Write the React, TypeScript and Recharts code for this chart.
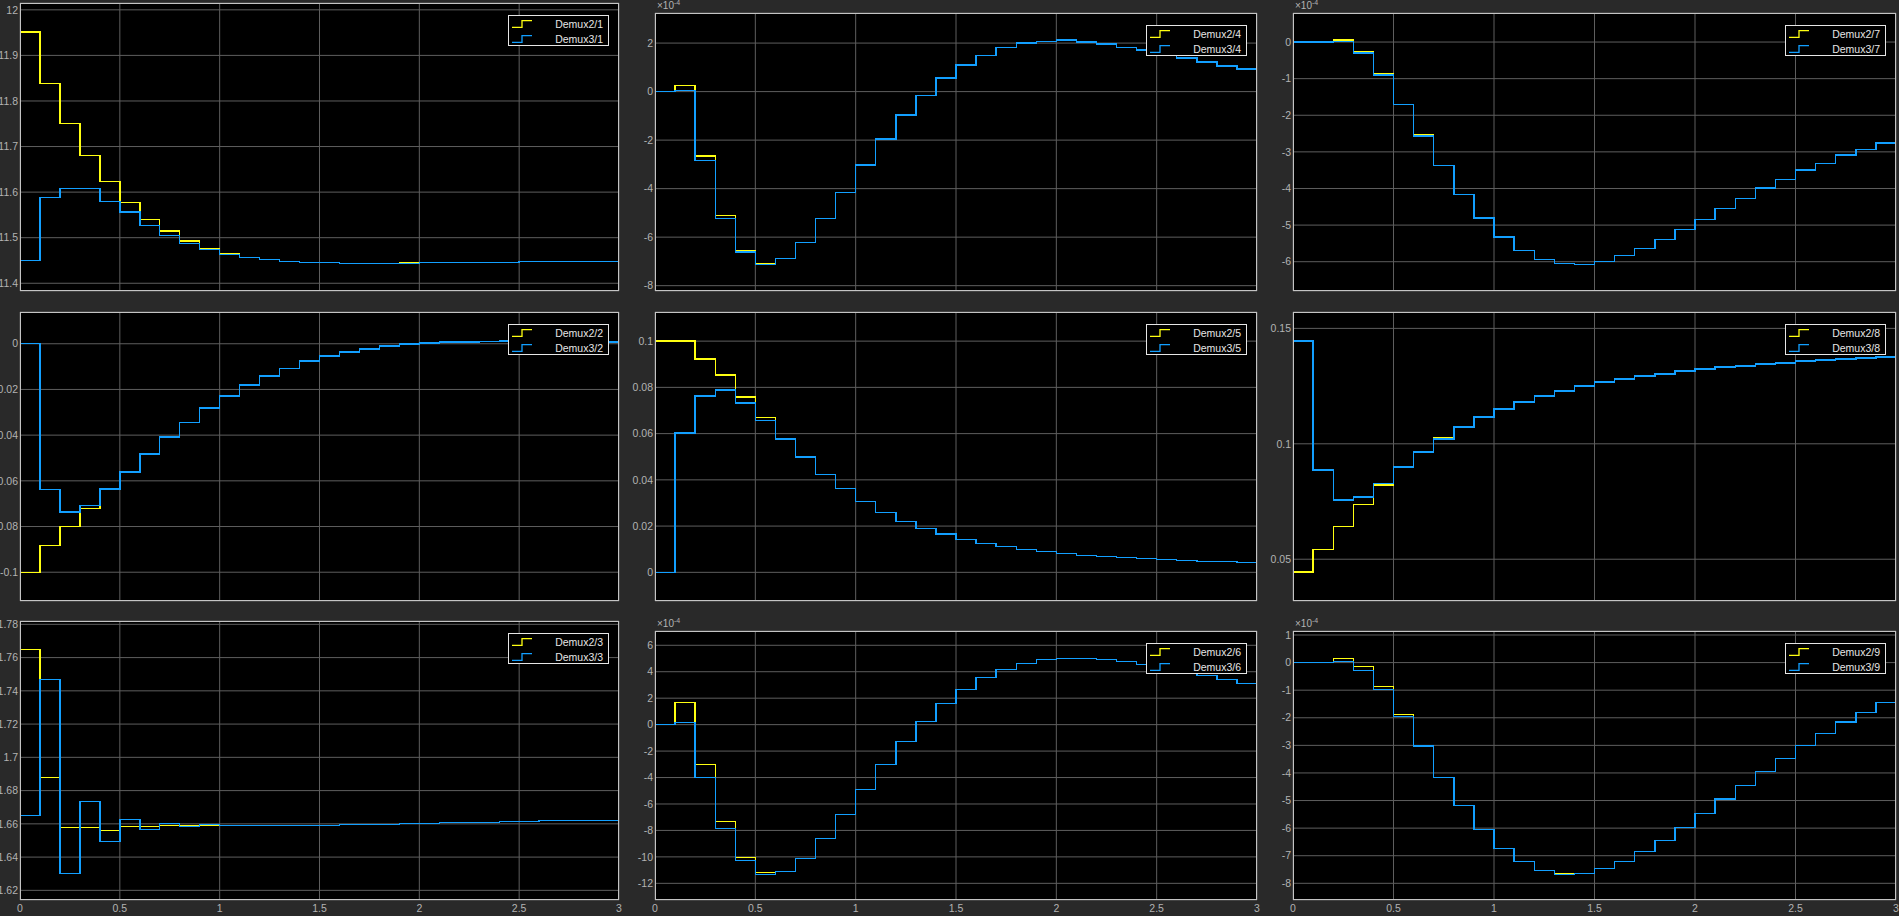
import { LineChart, Line, XAxis, YAxis, CartesianGrid, Legend } from 'recharts'

const FONT = '"Liberation Sans", Arial, Helvetica, sans-serif'
const YELLOW = '#ffff11'
const BLUE = '#129fff'

// sample times (0.1 s steps), shared by all scopes
const time = [0, 0.1, 0.2, 0.3, 0.4, 0.5, 0.6, 0.7, 0.8, 0.9, 1.0, 1.1, 1.2, 1.3, 1.4, 1.5,
  1.6, 1.7, 1.8, 1.9, 2.0, 2.1, 2.2, 2.3, 2.4, 2.5, 2.6, 2.7, 2.8, 2.9, 3.0]
const xTicks = [0, 0.5, 1, 1.5, 2, 2.5, 3]

// Demux */1
const demux2_1 = [11.951, 11.839, 11.7512, 11.681, 11.6239, 11.5778, 11.5405, 11.5149, 11.4929, 11.4768, 11.4659,
  11.4571, 11.4527, 11.4483, 11.4461, 11.4461, 11.4439, 11.4439, 11.4439, 11.446, 11.4454, 11.4454, 11.4454,
  11.4454, 11.4454, 11.4476, 11.4476, 11.4476, 11.4476, 11.4476, 11.4476]
const demux3_1 = [11.4505, 11.5888, 11.6085, 11.6085, 11.58, 11.5566, 11.5273, 11.5054, 11.4878, 11.4746, 11.4637,
  11.4571, 11.4527, 11.4483, 11.4461, 11.4461, 11.4439, 11.4439, 11.4439, 11.4439, 11.4454, 11.4454, 11.4454,
  11.4454, 11.4454, 11.4476, 11.4476, 11.4476, 11.4476, 11.4476, 11.4476]
const ticks_1 = [11.4, 11.5, 11.6, 11.7, 11.8, 11.9, 12]

// Demux */2
const demux2_2 = [-0.1, -0.0882, -0.0799, -0.072, -0.0639, -0.0562, -0.0483, -0.0409, -0.0345, -0.0282, -0.0229,
  -0.0181, -0.0142, -0.0107, -0.0076, -0.0054, -0.0036, -0.0023, -0.001, -0.0001, 0.0003, 0.0007, 0.0007, 0.001,
  0.0012, 0.0012, 0.001, 0.0009, 0.0008, 0.0008, 0.0008]
const demux3_2 = [0, -0.0637, -0.0737, -0.0707, -0.0635, -0.0562, -0.0483, -0.0409, -0.0345, -0.0282, -0.0229,
  -0.0181, -0.0142, -0.0107, -0.0076, -0.0054, -0.0036, -0.0023, -0.001, -0.0001, 0.0003, 0.0007, 0.0007, 0.001,
  0.0012, 0.0012, 0.001, 0.0009, 0.0008, 0.0008, 0.0008]
const ticks_2 = [-0.1, -0.08, -0.06, -0.04, -0.02, 0]

// Demux */3
const demux2_3 = [1.765, 1.688, 1.6579, 1.6579, 1.6561, 1.6585, 1.6585, 1.6591, 1.6591, 1.6591, 1.6591, 1.6591,
  1.6591, 1.6591, 1.6591, 1.6591, 1.6597, 1.6597, 1.6597, 1.6603, 1.6603, 1.6609, 1.6609, 1.6609, 1.6615, 1.6615,
  1.6621, 1.6621, 1.6621, 1.6621, 1.6621]
const demux3_3 = [1.6651, 1.7469, 1.6302, 1.6735, 1.6495, 1.6627, 1.6567, 1.6603, 1.6585, 1.6597, 1.6591, 1.6591,
  1.6591, 1.6591, 1.6591, 1.6591, 1.6597, 1.6597, 1.6597, 1.6603, 1.6603, 1.6609, 1.6609, 1.6609, 1.6615, 1.6615,
  1.6621, 1.6621, 1.6621, 1.6621, 1.6621]
const ticks_3 = [1.62, 1.64, 1.66, 1.68, 1.7, 1.72, 1.74, 1.76, 1.78]

// Demux */4  (x 1e-4)
const demux2_4 = [0, 0.25, -2.66, -5.11, -6.54, -7.08, -6.87, -6.21, -5.22, -4.15, -3.03, -1.96, -0.97, -0.15,
  0.56, 1.09, 1.5, 1.83, 2.0, 2.07, 2.12, 2.04, 1.97, 1.83, 1.71, 1.56, 1.38, 1.22, 1.05, 0.93, 0.83]
const demux3_4 = [0, 0.04, -2.83, -5.22, -6.62, -7.12, -6.87, -6.21, -5.22, -4.15, -3.03, -1.96, -0.97, -0.15,
  0.56, 1.09, 1.5, 1.83, 2.0, 2.07, 2.12, 2.04, 1.97, 1.83, 1.71, 1.56, 1.38, 1.22, 1.05, 0.93, 0.83]
const ticks_4 = [-8, -6, -4, -2, 0, 2]

// Demux */5
const demux2_5 = [0.1, 0.1, 0.0922, 0.0853, 0.0758, 0.067, 0.058, 0.0498, 0.0424, 0.0362, 0.0307, 0.026, 0.0221,
  0.019, 0.0165, 0.0143, 0.0126, 0.0113, 0.01, 0.0091, 0.0082, 0.0074, 0.0069, 0.0065, 0.0061, 0.0056, 0.0052,
  0.0048, 0.0048, 0.0043, 0.0043]
const demux3_5 = [0, 0.0602, 0.0762, 0.0788, 0.0732, 0.0658, 0.0576, 0.0498, 0.0424, 0.0362, 0.0307, 0.026,
  0.0221, 0.019, 0.0165, 0.0143, 0.0126, 0.0113, 0.01, 0.0091, 0.0082, 0.0074, 0.0069, 0.0065, 0.0061, 0.0056,
  0.0052, 0.0048, 0.0048, 0.0043, 0.0043]
const ticks_5 = [0, 0.02, 0.04, 0.06, 0.08, 0.1]

// Demux */6  (x 1e-4)
const demux2_6 = [0, 1.69, -3.0, -7.33, -10.06, -11.17, -11.09, -10.11, -8.6, -6.78, -4.89, -3.0, -1.26, 0.25,
  1.61, 2.67, 3.58, 4.18, 4.64, 4.94, 5.02, 5.02, 4.94, 4.79, 4.56, 4.3, 4.02, 3.73, 3.43, 3.13, 3.0]
const demux3_6 = [0, 0.18, -3.98, -7.84, -10.26, -11.32, -11.09, -10.11, -8.6, -6.78, -4.89, -3.0, -1.26, 0.25,
  1.61, 2.67, 3.58, 4.18, 4.64, 4.94, 5.02, 5.02, 4.94, 4.79, 4.56, 4.3, 4.02, 3.73, 3.43, 3.13, 3.0]
const ticks_6 = [-12, -10, -8, -6, -4, -2, 0, 2, 4, 6]

// Demux */7  (x 1e-4)
const demux2_7 = [0, 0, 0.055, -0.27, -0.875, -1.7, -2.54, -3.38, -4.16, -4.81, -5.33, -5.69, -5.94, -6.05, -6.07,
  -5.99, -5.83, -5.64, -5.39, -5.12, -4.84, -4.54, -4.27, -3.99, -3.75, -3.5, -3.31, -3.09, -2.93, -2.76, -2.65]
const demux3_7 = [0, 0, 0.01, -0.3, -0.9, -1.7, -2.57, -3.38, -4.16, -4.81, -5.33, -5.69, -5.94, -6.05, -6.07,
  -5.99, -5.83, -5.64, -5.39, -5.12, -4.84, -4.54, -4.27, -3.99, -3.75, -3.5, -3.31, -3.09, -2.93, -2.76, -2.65]
const ticks_7 = [-6, -5, -4, -3, -2, -1, 0]

// Demux */8
const demux2_8 = [0.0444, 0.0543, 0.0643, 0.0738, 0.0821, 0.0899, 0.0964, 0.1025, 0.1072, 0.1116, 0.115, 0.1181,
  0.1207, 0.1228, 0.125, 0.1267, 0.128, 0.1293, 0.1302, 0.1315, 0.1324, 0.1332, 0.1337, 0.1345, 0.135, 0.1358,
  0.1363, 0.1367, 0.1371, 0.1376, 0.1376]
const demux3_8 = [0.1445, 0.0886, 0.0756, 0.0769, 0.0829, 0.0899, 0.0964, 0.102, 0.1072, 0.1116, 0.115, 0.1181,
  0.1207, 0.1228, 0.125, 0.1267, 0.128, 0.1293, 0.1302, 0.1315, 0.1324, 0.1332, 0.1337, 0.1345, 0.135, 0.1358,
  0.1363, 0.1367, 0.1371, 0.1376, 0.1376]
const ticks_8 = [0.05, 0.1, 0.15]

// Demux */9  (x 1e-4)
const demux2_9 = [0, 0, 0.157, -0.145, -0.87, -1.885, -3.03, -4.16, -5.17, -6.04, -6.73, -7.2, -7.53, -7.64,
  -7.64, -7.46, -7.2, -6.84, -6.44, -5.97, -5.46, -4.95, -4.45, -3.94, -3.47, -3.0, -2.56, -2.16, -1.8, -1.44, -1.18]
const demux3_9 = [0, 0, 0.05, -0.28, -0.97, -1.95, -3.03, -4.16, -5.17, -6.04, -6.73, -7.2, -7.53, -7.67, -7.64,
  -7.46, -7.2, -6.84, -6.44, -5.97, -5.46, -4.95, -4.45, -3.94, -3.47, -3.0, -2.56, -2.16, -1.8, -1.44, -1.18]
const ticks_9 = [-8, -7, -6, -5, -4, -3, -2, -1, 0, 1]

// plot rectangles in page pixels
const COLS = [{ x: 20, w: 599 }, { x: 655, w: 602 }, { x: 1293, w: 603 }]

const panels = [
  { n: 1, col: 0, y: 3, h: 288, a: demux2_1, b: demux3_1, ticks: ticks_1, domain: [11.383, 12.015] },
  { n: 4, col: 1, y: 13, h: 278, a: demux2_4, b: demux3_4, ticks: ticks_4, domain: [-8.22, 3.24], exp: true },
  { n: 7, col: 2, y: 13, h: 278, a: demux2_7, b: demux3_7, ticks: ticks_7, domain: [-6.8, 0.793], exp: true },
  { n: 2, col: 0, y: 312, h: 289, a: demux2_2, b: demux3_2, ticks: ticks_2, domain: [-0.1126, 0.0139] },
  { n: 5, col: 1, y: 312, h: 289, a: demux2_5, b: demux3_5, ticks: ticks_5, domain: [-0.0124, 0.1126] },
  { n: 8, col: 2, y: 312, h: 289, a: demux2_8, b: demux3_8, ticks: ticks_8, domain: [0.0319, 0.1571] },
  { n: 3, col: 0, y: 621, h: 279, a: demux2_3, b: demux3_3, ticks: ticks_3, domain: [1.6142, 1.782], showX: true },
  { n: 6, col: 1, y: 631, h: 269, a: demux2_6, b: demux3_6, ticks: ticks_6, domain: [-13.26, 7.08], exp: true, showX: true },
  { n: 9, col: 2, y: 631, h: 269, a: demux2_9, b: demux3_9, ticks: ticks_9, domain: [-8.605, 1.145], exp: true, showX: true },
]

const ML = 45, MT = 5, MR = 5, MB = 20
const TICK_STYLE = { fontSize: 10.5, fill: '#b3b3b3', fontFamily: FONT }
// keeps the x ticks (so the vertical grid is drawn) but shows no label
const HIDDEN_TICK = { ...TICK_STYLE, fill: 'none' }

function ScopeLegend({ n }: { n: number }) {
  const rows = [
    { name: `Demux2/${n}`, color: YELLOW },
    { name: `Demux3/${n}`, color: BLUE },
  ]
  return (
    <div style={{
      width: 101, height: 31, boxSizing: 'border-box', border: '1px solid #e6e6e6',
      background: '#000', position: 'relative', fontFamily: FONT, fontSize: 10.5, color: '#e6e6e6',
    }}>
      {rows.map((r, i) => (
        <div key={r.name} style={{
          position: 'absolute', left: 0, right: 0, top: 1 + i * 15, height: 14,
          display: 'flex', alignItems: 'center',
        }}>
          <svg width={20} height={8} style={{ marginLeft: 3 }}>
            <path d="M0 7.5 H10 V0.5 H20" stroke={r.color} fill="none" strokeWidth={1.3} />
          </svg>
          <span style={{ marginLeft: 'auto', marginRight: 5, lineHeight: '14px' }}>{r.name}</span>
        </div>
      ))}
    </div>
  )
}

function ScopePanel({ p }: { p: any }) {
  const { x, w } = COLS[p.col]
  const data = time.map((t, i) => ({ t, a: p.a[i], b: p.b[i] }))
  return (
    <>
      <div style={{ position: 'absolute', left: x - ML, top: p.y - MT }}>
        <LineChart width={w + ML + MR} height={p.h + MT + MB} data={data}
          margin={{ top: MT, right: MR, left: 0, bottom: 0 }}>
          <CartesianGrid stroke="#5e5e5e" fill="#000" />
          <XAxis
            dataKey="t" type="number" domain={[0, 3]} ticks={xTicks} allowDataOverflow interval={0}
            height={MB} axisLine={false} tickLine={false} tickSize={3} tickMargin={2}
            tick={p.showX ? TICK_STYLE : HIDDEN_TICK}
          />
          <YAxis
            type="number" domain={p.domain} ticks={p.ticks} allowDataOverflow interval={0}
            width={ML} axisLine={false} tickLine={false} tickSize={2} tickMargin={0}
            tick={TICK_STYLE}
          />
          <Legend
            layout="horizontal" verticalAlign="middle" align="center"
            wrapperStyle={{ left: ML + w - 10 - 101, top: MT + 12, width: 101, height: 31 }}
            content={() => <ScopeLegend n={p.n} />}
          />
          <Line type="stepAfter" dataKey="a" stroke={YELLOW} strokeWidth={1.4} shapeRendering="crispEdges"
            dot={false} isAnimationActive={false} />
          <Line type="stepAfter" dataKey="b" stroke={BLUE} strokeWidth={1.4} shapeRendering="crispEdges"
            dot={false} isAnimationActive={false} />
        </LineChart>
      </div>
      {/* axes box */}
      <div style={{
        position: 'absolute', left: x, top: p.y, width: w, height: p.h,
        boxSizing: 'border-box', border: '1px solid #c4c4c4', pointerEvents: 'none',
      }} />
      {p.exp && (
        <div style={{
          position: 'absolute', left: x + 2, top: p.y - 12, fontFamily: FONT, fontSize: 10,
          lineHeight: '10px', color: '#b3b3b3', whiteSpace: 'nowrap',
        }}>
          ×10<span style={{ fontSize: 7, position: 'relative', top: -4 }}>-4</span>
        </div>
      )}
    </>
  )
}

export default function App() {
  return (
    <div style={{
      position: 'absolute', left: 0, top: 0, width: 1899, height: 916,
      overflow: 'hidden', background: '#292929',
    }}>
      {panels.map(p => <ScopePanel key={p.n} p={p} />)}
    </div>
  )
}
